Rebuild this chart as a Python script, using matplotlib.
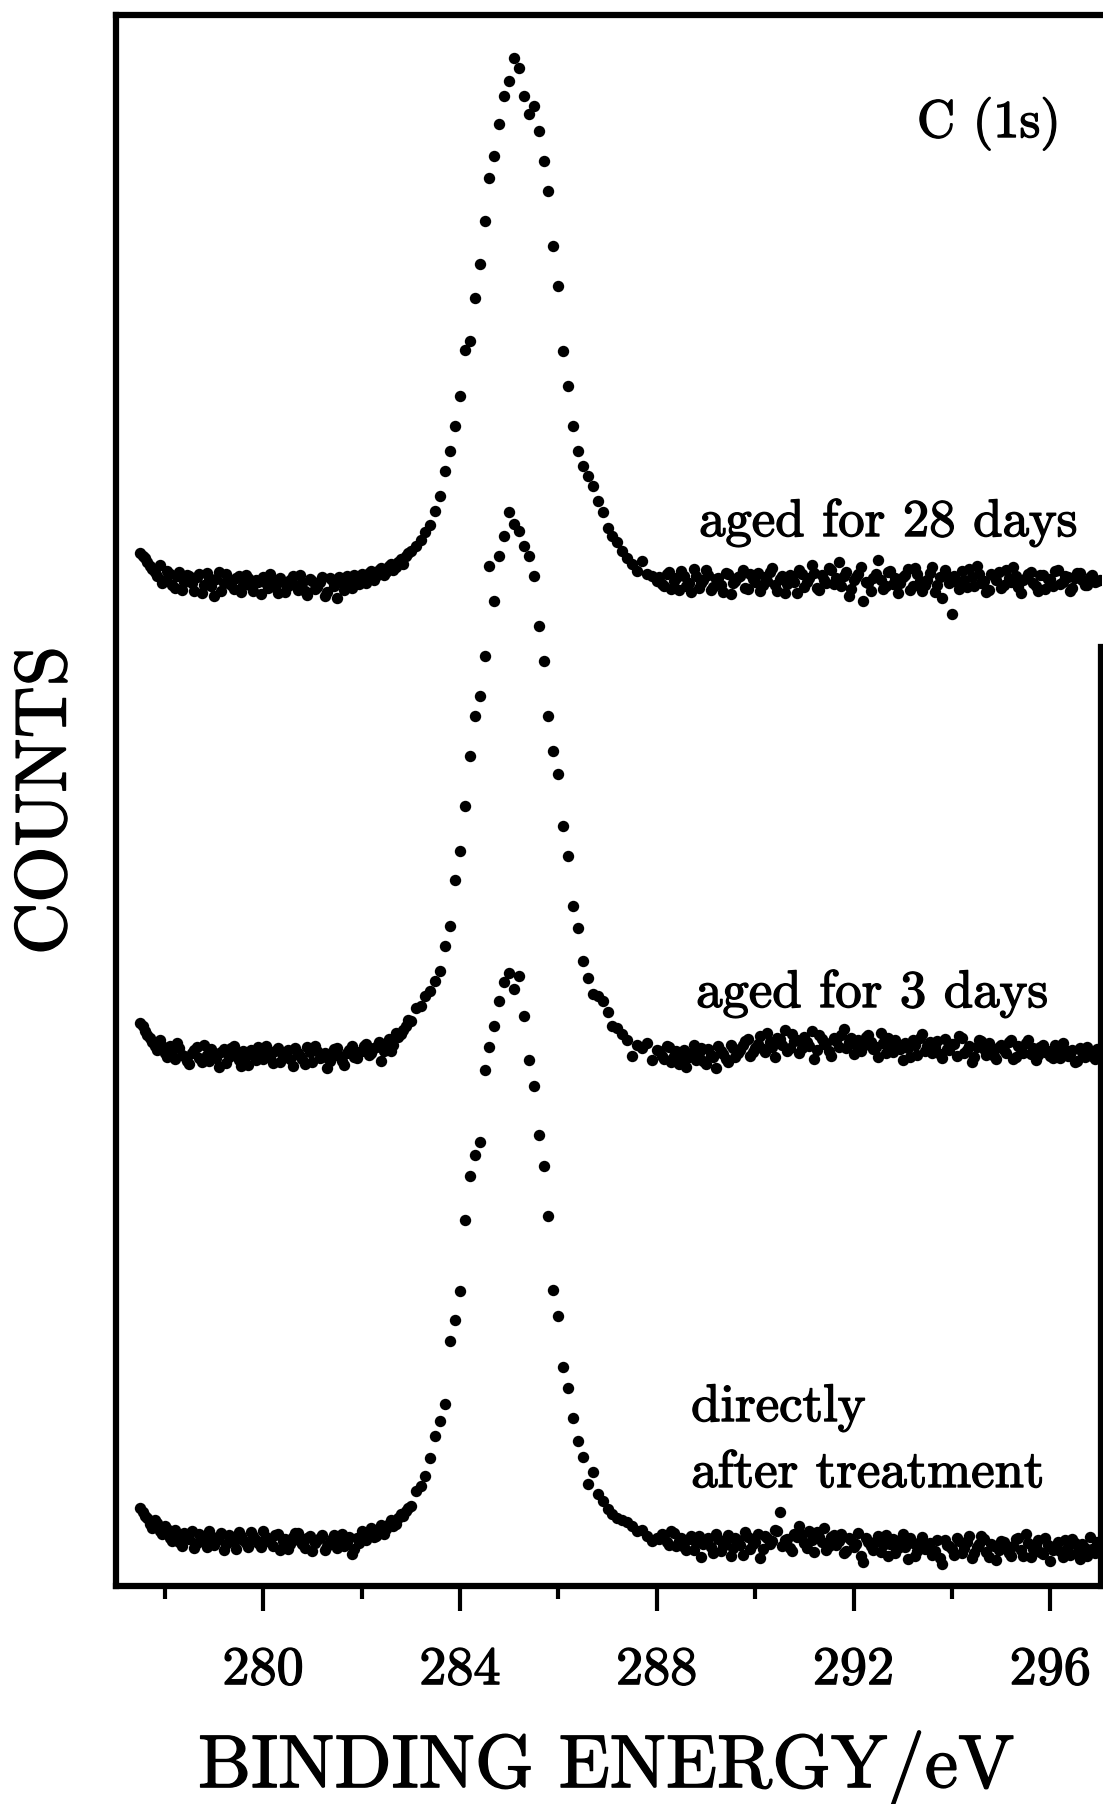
import matplotlib.pyplot as plt
import matplotlib.patheffects as pe

plt.rcParams['font.family'] = 'cmr10'
plt.rcParams['axes.unicode_minus'] = False

# binding energy grid (eV)
energy = [277.5, 277.6, 277.7, 277.8, 277.9, 278.0, 278.1, 278.2, 278.3, 278.4,
          278.5, 278.6, 278.7, 278.8, 278.9, 279.0, 279.1, 279.2, 279.3, 279.4,
          279.5, 279.6, 279.7, 279.8, 279.9, 280.0, 280.1, 280.2, 280.3, 280.4,
          280.5, 280.6, 280.7, 280.8, 280.9, 281.0, 281.1, 281.2, 281.3, 281.4,
          281.5, 281.6, 281.7, 281.8, 281.9, 282.0, 282.1, 282.2, 282.3, 282.4,
          282.5, 282.6, 282.7, 282.8, 282.9, 283.0, 283.1, 283.2, 283.3, 283.4,
          283.5, 283.6, 283.7, 283.8, 283.9, 284.0, 284.1, 284.2, 284.3, 284.4,
          284.5, 284.6, 284.7, 284.8, 284.9, 285.0, 285.1, 285.2, 285.3, 285.4,
          285.5, 285.6, 285.7, 285.8, 285.9, 286.0, 286.1, 286.2, 286.3, 286.4,
          286.5, 286.6, 286.7, 286.8, 286.9, 287.0, 287.1, 287.2, 287.3, 287.4,
          287.5, 287.6, 287.7, 287.8, 287.9, 288.0, 288.1, 288.2, 288.3, 288.4,
          288.5, 288.6, 288.7, 288.8, 288.9, 289.0, 289.1, 289.2, 289.3, 289.4,
          289.5, 289.6, 289.7, 289.8, 289.9, 290.0, 290.1, 290.2, 290.3, 290.4,
          290.5, 290.6, 290.7, 290.8, 290.9, 291.0, 291.1, 291.2, 291.3, 291.4,
          291.5, 291.6, 291.7, 291.8, 291.9, 292.0, 292.1, 292.2, 292.3, 292.4,
          292.5, 292.6, 292.7, 292.8, 292.9, 293.0, 293.1, 293.2, 293.3, 293.4,
          293.5, 293.6, 293.7, 293.8, 293.9, 294.0, 294.1, 294.2, 294.3, 294.4,
          294.5, 294.6, 294.7, 294.8, 294.9, 295.0, 295.1, 295.2, 295.3, 295.4,
          295.5, 295.6, 295.7, 295.8, 295.9, 296.0, 296.1, 296.2, 296.3, 296.4,
          296.5, 296.6, 296.7, 296.8, 296.9, 297.0]

# in-between channels of the flat background on both sides of the peak
energy_half = [277.55, 277.65, 277.75, 277.85, 277.95, 278.05, 278.15, 278.25, 278.35, 278.45,
               278.55, 278.65, 278.75, 278.85, 278.95, 279.05, 279.15, 279.25, 279.35, 279.45,
               279.55, 279.65, 279.75, 279.85, 279.95, 280.05, 280.15, 280.25, 280.35, 280.45,
               280.55, 280.65, 280.75, 280.85, 280.95, 281.05, 281.15, 281.25, 281.35, 281.45,
               281.55, 281.65, 281.75, 281.85, 281.95, 282.05, 282.15, 282.25, 282.35, 282.45,
               282.55, 282.65, 282.75, 282.85, 282.95,
               288.05, 288.15, 288.25, 288.35, 288.45, 288.55, 288.65, 288.75, 288.85, 288.95,
               289.05, 289.15, 289.25, 289.35, 289.45, 289.55, 289.65, 289.75, 289.85, 289.95,
               290.05, 290.15, 290.25, 290.35, 290.45, 290.55, 290.65, 290.75, 290.85, 290.95,
               291.05, 291.15, 291.25, 291.35, 291.45, 291.55, 291.65, 291.75, 291.85, 291.95,
               292.05, 292.15, 292.25, 292.35, 292.45, 292.55, 292.65, 292.75, 292.85, 292.95,
               293.05, 293.15, 293.25, 293.35, 293.45, 293.55, 293.65, 293.75, 293.85, 293.95,
               294.05, 294.15, 294.25, 294.35, 294.45, 294.55, 294.65, 294.75, 294.85, 294.95,
               295.05, 295.15, 295.25, 295.35, 295.45, 295.55, 295.65, 295.75, 295.85, 295.95,
               296.05, 296.15, 296.25, 296.35, 296.45, 296.55, 296.65, 296.75, 296.85, 296.95]

# counts (arb. units, curves offset as in the figure)
aged_28 = [1033, 1028, 1020, 1014, 1021, 1006, 1012, 998, 1014, 1004,
           1010, 995, 1012, 1001, 1008, 990, 1014, 1003, 1006, 997,
           1010, 1001, 1008, 995, 1004, 1009, 998, 1006, 993, 1004,
           1000, 1010, 996, 1003, 991, 1005, 999, 1009, 994, 1006,
           988, 1003, 1010, 998, 1008, 1012, 1003, 1015, 1010, 1018,
           1014, 1022, 1019, 1027, 1030, 1035, 1040, 1046, 1054, 1061,
           1075, 1090, 1115, 1135, 1160, 1190, 1236, 1245, 1288, 1322,
           1365, 1408, 1430, 1462, 1490, 1505, 1528, 1518, 1490, 1472,
           1480, 1455, 1425, 1395, 1340, 1300, 1235, 1200, 1160, 1135,
           1120, 1110, 1100, 1085, 1074, 1058, 1050, 1044, 1035, 1028,
           1022, 1015, 1025, 1012, 1010, 1005, 1002, 1012, 997, 1008,
           1015, 1000, 994, 1010, 1003, 1016, 996, 1007, 1001, 1013,
           992, 1005, 1010, 998, 1012, 1004, 995, 1009, 1014, 1001,
           1007, 993, 1011, 1004, 1016, 999, 1008, 1013, 996, 1006,
           1018, 1002, 1024, 1010, 990, 1006, 1012, 985, 1003, 1008,
           1026, 997, 1014, 1002, 993, 1009, 1017, 1000, 1012, 995,
           1006, 1019, 1001, 988, 1010, 972, 1004, 1015, 999, 1009,
           1020, 1003, 994, 1012, 1006, 998, 1016, 1004, 1010, 993,
           1008, 1014, 1000, 1011, 997, 1007, 1015, 1002, 1010, 995,
           1008, 1013, 1001, 1009, 1004, 1006]
aged_28_half = [1030, 1024, 1017, 1010, 1003, 1015, 1001, 1010, 996, 1011,
                1003, 1009, 993, 1013, 1000, 1007, 995, 1012, 1001, 1008,
                994, 1011, 1000, 1006, 992, 1003, 1012, 999, 1008, 994,
                1006, 1001, 1011, 995, 1007, 997, 1004, 990, 1008, 1000,
                1009, 996, 1005, 1011, 1002, 1009, 1013, 1006, 1016, 1011,
                1020, 1016, 1024, 1022, 1033,
                1009, 1000, 1014, 1005, 996, 1010, 1003, 1017, 998, 1006,
                1011, 999, 1008, 994, 1012, 1003, 1009, 1016, 997, 1007,
                1013, 1001, 1005, 1018, 995, 1010, 1002, 1009, 993, 1012,
                1004, 1021, 998, 1011, 1003, 1016, 1008, 1000, 1014, 997,
                1009, 1019, 1004, 995, 1012, 1006, 1000, 1015, 1008, 1003,
                1011, 996, 1018, 1005, 1001, 1013, 994, 1009, 1016, 1003,
                1010, 997, 1006, 1017, 1000, 1012, 1005, 996, 1010, 1014,
                1001, 1008, 1019, 999, 1006, 1012, 1003, 995, 1011, 1007,
                1000, 1016, 1004, 1009, 998, 1013, 1006, 1001, 1011, 1005]

aged_3 = [563, 555, 548, 540, 546, 533, 540, 527, 538, 530,
          522, 536, 528, 541, 525, 533, 519, 537, 529, 540,
          526, 535, 521, 532, 539, 527, 534, 523, 538, 530,
          536, 520, 533, 527, 539, 524, 535, 529, 518, 532,
          538, 525, 533, 540, 528, 535, 542, 533, 539, 525,
          541, 535, 553, 552, 560, 565, 578, 580, 590, 595,
          605, 615, 640, 660, 706, 735, 780, 830, 870, 890,
          930, 1020, 985, 1030, 1050, 1074, 1062, 1055, 1040, 1030,
          1010, 960, 925, 870, 835, 812, 760, 730, 680, 658,
          625, 608, 592, 590, 585, 574, 560, 558, 552, 546,
          530, 541, 538, 543, 526, 536, 530, 540, 524, 535,
          528, 519, 533, 526, 538, 522, 531, 518, 535, 527,
          541, 529, 536, 545, 530, 538, 550, 534, 544, 529,
          547, 556, 538, 545, 533, 549, 540, 527, 551, 542,
          535, 548, 539, 557, 544, 532, 546, 540, 551, 537,
          529, 543, 548, 534, 541, 526, 538, 546, 531, 552,
          540, 533, 545, 528, 537, 542, 530, 548, 536, 524,
          539, 545, 531, 538, 527, 541, 533, 546, 529, 537,
          543, 532, 526, 539, 534, 530, 541, 528, 536, 532,
          524, 538, 529, 535, 527, 531]
aged_3_half = [560, 551, 544, 536, 540, 529, 536, 543, 531, 525,
               533, 539, 524, 531, 537, 528, 534, 523, 538, 531,
               520, 530, 536, 526, 533, 540, 529, 535, 524, 532,
               527, 538, 530, 522, 534, 540, 528, 533, 525, 537,
               530, 521, 536, 529, 534, 540, 531, 538, 544, 535,
               547, 541, 549, 556, 566,
               535, 527, 539, 530, 522, 536, 529, 541, 533, 525,
               537, 529, 540, 532, 524, 538, 533, 541, 547, 534,
               542, 537, 553, 539, 548, 541, 535, 552, 546, 538,
               544, 555, 536, 547, 543, 530, 545, 551, 538, 548,
               541, 535, 549, 544, 539, 553, 533, 540, 546, 537,
               543, 529, 541, 548, 535, 544, 539, 532, 547, 536,
               542, 550, 533, 540, 529, 546, 537, 543, 530, 539,
               536, 544, 527, 540, 533, 546, 538, 531, 541, 535,
               528, 537, 543, 530, 536, 525, 534, 539, 530, 537]

direct = [78, 70, 62, 66, 55, 60, 48, 56, 44, 53,
          47, 38, 52, 45, 55, 41, 49, 36, 51, 44,
          54, 46, 39, 50, 43, 55, 47, 40, 52, 45,
          37, 49, 53, 42, 48, 35, 46, 51, 40, 47,
          38, 52, 44, 32, 48, 55, 46, 58, 50, 61,
          57, 66, 62, 72, 75, 80, 95, 100, 110, 128,
          150, 165, 182, 245, 266, 295, 366, 410, 431, 444,
          516, 539, 560, 585, 604, 613, 597, 610, 570, 526,
          500, 451, 420, 370, 296, 270, 219, 198, 168, 145,
          129, 102, 114, 92, 85, 77, 72, 68, 66, 64,
          60, 55, 56, 50, 45, 48, 52, 44, 55, 40,
          48, 36, 50, 43, 29, 46, 39, 52, 35, 45,
          30, 48, 41, 54, 37, 44, 28, 50, 42, 56,
          74, 46, 38, 52, 60, 43, 55, 34, 49, 58,
          40, 51, 45, 33, 48, 39, 53, 24, 44, 36,
          50, 41, 30, 47, 38, 52, 27, 43, 35, 49,
          40, 31, 46, 22, 41, 37, 48, 33, 44, 28,
          39, 50, 34, 42, 26, 45, 38, 30, 47, 36,
          52, 29, 41, 34, 48, 25, 40, 35, 46, 31,
          43, 27, 38, 49, 33, 40]
direct_half = [74, 68, 58, 63, 52, 57, 45, 51, 40, 49,
               55, 43, 47, 39, 50, 45, 53, 42, 47, 37,
               50, 43, 54, 46, 39, 49, 44, 51, 36, 47,
               42, 53, 45, 38, 50, 43, 48, 36, 44, 51,
               46, 40, 49, 37, 43, 51, 54, 49, 56, 52,
               62, 60, 68, 70, 78,
               47, 51, 41, 53, 45, 39, 47, 36, 50, 42,
               48, 33, 47, 40, 51, 38, 46, 31, 49, 42,
               52, 37, 48, 45, 55, 40, 47, 35, 49, 51,
               38, 46, 54, 44, 36, 49, 41, 52, 35, 46,
               42, 30, 48, 40, 45, 34, 51, 42, 33, 46,
               39, 48, 30, 44, 37, 43, 35, 28, 46, 40,
               31, 45, 38, 50, 33, 42, 47, 29, 40, 36,
               44, 33, 40, 48, 30, 43, 37, 46, 32, 41,
               36, 44, 29, 39, 47, 33, 42, 30, 37, 44]

fig = plt.figure(figsize=(11.03, 18.04), dpi=100)
ax = fig.add_axes([0.10517, 0.12084, 0.89302, 0.87084])

for counts in (aged_28, aged_3, direct):
    ax.plot(energy, counts, 'o', color='black', ms=8.2, mew=0)
for counts in (aged_28_half, aged_3_half, direct_half):
    ax.plot(energy_half, counts, 'o', color='black', ms=8.2, mew=0)

ax.set_xlim(277.01, 297.03)
ax.set_ylim(0, 1571)
ax.set_xticks([280, 284, 288, 292, 296])
ax.set_xticks([278, 282, 286, 290, 294], minor=True)
ax.set_yticks([])
ax.tick_params(axis='x', which='major', direction='out', length=18, width=3,
               pad=26, labelsize=39)
ax.tick_params(axis='x', which='minor', direction='out', length=9, width=3)
for s in ax.spines.values():
    s.set_linewidth(4.5)
ax.spines['right'].set_bounds(0, 939)

ax.set_xlabel('BINDING ENERGY/eV', fontsize=54)
ax.xaxis.set_label_coords(0.4975, -0.128)
ax.xaxis.label.set_va('baseline')
ax.set_ylabel('COUNTS', fontsize=52)
ax.yaxis.set_label_coords(-0.070, 0.5)
ax.yaxis.label.set_va('center')

ax.text(293.29, 1449, 'C (1s)', fontsize=38)
ax.text(288.86, 1050, 'aged for 28 days', fontsize=38)
ax.text(288.80, 579, 'aged for 3 days', fontsize=38)
ax.text(288.70, 165, 'directly', fontsize=38)
ax.text(288.70, 99, 'after treatment', fontsize=38)

# scanned print looks heavier than plain cmr10
heavy = [pe.withStroke(linewidth=1.0, foreground='black')]
for t in ax.texts + ax.get_xticklabels() + [ax.xaxis.label, ax.yaxis.label]:
    t.set_path_effects(heavy)

fig.savefig('out.png', dpi=100)
